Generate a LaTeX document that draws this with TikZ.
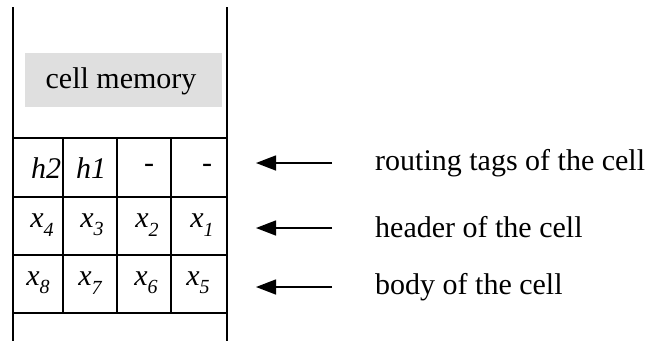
\documentclass[tikz,border=0pt]{standalone}
\usepackage{fontspec}
\setmainfont{Liberation Serif}
\usetikzlibrary{arrows.meta}
\newcommand\cellsub[1]{\raisebox{-0.28em}{\fontsize{20}{20}\selectfont\itshape #1}}
\begin{document}
\begin{tikzpicture}[x=1pt,y=-1pt,
  wall/.style={line width=1.4pt},
  rowline/.style={line width=1.2pt},
  thickrow/.style={line width=2.4pt},
  entry/.style={inner sep=0pt,font=\fontsize{30}{30}\selectfont\itshape},
  label/.style={anchor=west,inner sep=0pt,font=\fontsize{30}{30}\selectfont},
  pointer/.style={line width=1.4pt,-{Triangle[length=20pt,width=15pt]}}]
\useasboundingbox (0,0) rectangle (653,349);
% memory walls
\draw[wall] (13,7) -- (13,341);
\draw[wall] (227,7) -- (227,341);
% shaded memory label
\fill[gray!25] (25,53) rectangle (222,107);
\node[inner sep=0pt,font=\fontsize{30}{30}\selectfont] (mem) at (121,81) {cell memory};
% row boundaries
\draw[rowline] (13,138) -- (227,138);
\draw[thickrow] (13,197) -- (227,197);
\draw[thickrow] (13,255) -- (227,255);
\draw[rowline] (13,313) -- (227,313);
% column dividers
\foreach \cx in {63,117,171}
  \draw[rowline] (\cx,138) -- (\cx,313);
% routing tags row
\node[entry] (h2) at (46,168) {h2};
\node[entry] (h1) at (91,168) {h1};
\node[entry] (d2) at (149,168) {-};
\node[entry] (d1) at (207,168) {-};
% header row
\node[entry] (x4) at (42,225) {x\cellsub{4}};
\node[entry] (x3) at (92,225) {x\cellsub{3}};
\node[entry] (x2) at (147,225) {x\cellsub{2}};
\node[entry] (x1) at (202,225) {x\cellsub{1}};
% body row
\node[entry] (x8) at (38,283) {x\cellsub{8}};
\node[entry] (x7) at (90,283) {x\cellsub{7}};
\node[entry] (x6) at (146,283) {x\cellsub{6}};
\node[entry] (x5) at (198,283) {x\cellsub{5}};
% descriptions
\node[label] (tags) at (375,163) {routing tags of the cell};
\node[label] (head) at (375,227) {header of the cell};
\node[label] (body) at (375,287) {body of the cell};
\coordinate (tagsT) at (332,163); \coordinate (tagsH) at (256,163);
\coordinate (headT) at (332,228); \coordinate (headH) at (256,228);
\coordinate (bodyT) at (332,287); \coordinate (bodyH) at (256,287);
\draw[pointer] (tagsT) -- (tagsH);
\draw[pointer] (headT) -- (headH);
\draw[pointer] (bodyT) -- (bodyH);
\end{tikzpicture}
\end{document}
